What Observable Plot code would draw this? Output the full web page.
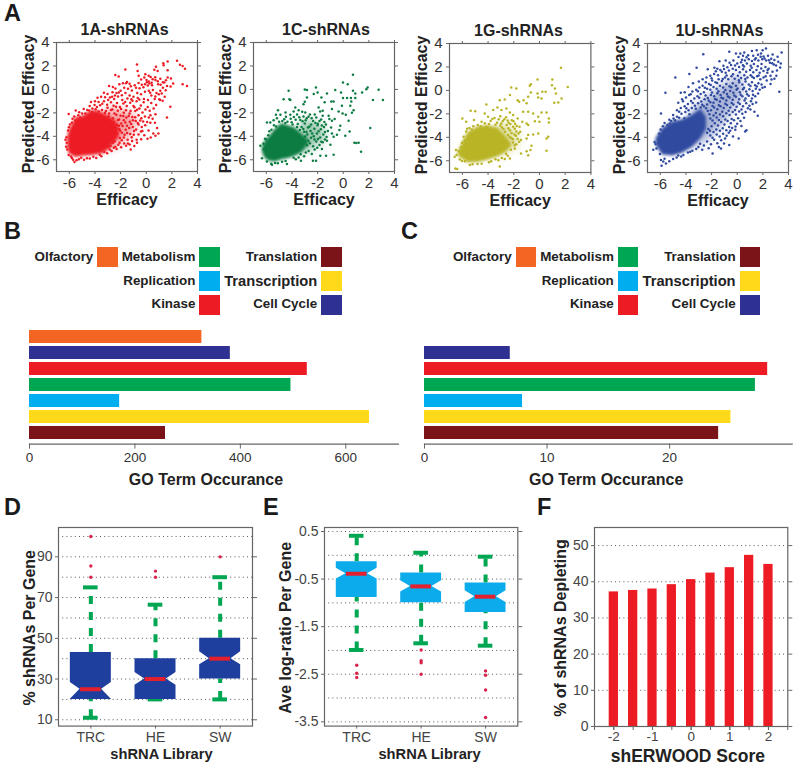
<!DOCTYPE html>
<html><head><meta charset="utf-8">
<script src="https://cdn.jsdelivr.net/npm/d3@7"></script>
<script src="https://cdn.jsdelivr.net/npm/@observablehq/plot@0.6"></script>
<style>
html,body{margin:0;padding:0;background:#fff}
#page{position:relative;width:800px;height:765px;overflow:hidden;font-family:"Liberation Sans",Arial,sans-serif}
.abs{position:absolute;white-space:nowrap}
</style></head><body><div id="page"></div>
<script>
// ---------- Panel A: values (x = efficacy, y = predicted efficacy)
const core1A=[[-6.13,-5.0,-4.1],[-6,-5.5,-3.5],[-5.48,-5.8,-2.4],[-4.96,-5.7,-2.3],[-4.44,-5.66,-1.9],[-3.92,-5.6,-1.8],[-3.4,-5.5,-2.0],[-2.88,-5.1,-2.3],[-2.36,-4.4,-2.7],[-2.1,-4.1,-3.3]];
const core1C=[[-6.3,-5.4,-4.9],[-6.08,-5.9,-4.4],[-5.82,-6.1,-4.1],[-5.3,-6.2,-3.4],[-4.78,-6.0,-2.9],[-4.26,-5.9,-3.1],[-3.74,-5.7,-3.3],[-3.22,-5.4,-3.8],[-2.7,-4.7,-4.3]];
const core1G=[[-6.34,-5.6,-5.3],[-5.95,-5.9,-4.4],[-5.56,-6.2,-3.6],[-4.78,-6.15,-3.1],[-4,-5.95,-3],[-3.22,-5.65,-3.2],[-2.57,-5.25,-4],[-2.18,-4.8,-4.5]];
const core1U=[[-6.34,-4.7,-4.1],[-5.82,-5.5,-3.24],[-5.04,-5.6,-2.68],[-4.26,-5.35,-2.5],[-3.48,-4.85,-2.1],[-2.83,-4.1,-1.6],[-2.4,-3.3,-2.3]];
const haze1A=[[-3.2,-5.3,-1.7],[-2.5,-5,-1.6],[-1.8,-4.5,-1.8],[-1.2,-4,-2],[-.8,-3.4,-2.4]];
const haze1C=[[-3.4,-5.7,-2.8],[-2.7,-5.3,-2.6],[-2,-4.8,-2.9],[-1.4,-4.4,-3.3]];
const haze1G=[[-3.3,-5.8,-2.8],[-2.6,-5.4,-2.8],[-2,-5,-3.2],[-1.6,-4.8,-3.8]];
const haze1U=[[-3.6,-5,-1.7],[-2.8,-4.6,-1],[-2,-4,-.4],[-1.2,-3,.4],[-.4,-1.8,.9],[.4,-.5,1.4]];
const points1A=[[2.4,2.44],[2.63,2.1],[2.84,2],[3.02,1.76],[2.84,.45],[3.18,.3],[1.67,2.38],[1.33,2.24],[1.36,2.05],[-.72,2.12],[-1.63,1.7],[-2.41,1.22],[-2.15,1.1],[-.67,1.58],[-.59,1.16],[.76,1.93],[.63,1.67],[1.67,1.64],[.89,1.58],[-.07,1.3],[.19,1.16],[-.15,1.02],[.5,.87],[1.54,.79],[1.93,.93],[1.67,1.02],[2.1,.5],[1.41,.59],[-1.58,.53],[-1.3,.48],[.9,.7],[1.1,.9],[1.3,.6],[.7,1.03],[.35,1.05],[-.4,.85],[-.1,.45],[.05,.62],[.25,.5],[.45,.35],[-.35,.4],[-.6,.55],[-.9,.35],
[-2.9,.3],[-2.6,.2],[-2.4,.08],[-2.1,.45],[-1.82,.52],[-1.5,.63],[-1.2,.28],[.02,.8],[.2,.67],[.42,.56],[.72,.8],[.93,.45],[1.12,.4],[1.3,.15],[1.62,.3],[1.9,.25],[.12,.33],[-.22,.18],[-.52,.1],[-.8,.15],[-1.12,-.1],[-1.42,.05],[-1.72,.14],[-2,-.12],[-2.32,-.3],[-2.63,-.24],[-3.02,-.4],[-3.3,-.28],[-3.52,-.62],[-3.8,-.72],[-4,-1],[-4.31,-1.08],[-2.83,-.7],[-2.5,-.82],[-2.2,-.6],[-1.9,-.5],[-1.62,-.3],[-1.3,-.53],[-1,-.62],[-.7,-.3],[-.41,-.42],[-.1,-.2],[.2,-.12],[.52,-.05],[.8,-.3],[1.1,-.12],[.4,-.52],[.71,-.6],[1.02,-.83],[1.88,-1.48],[1.62,-2.39],[1.28,-.97],[1.08,-.9],
[-3.3,-1.02],[-3.05,-1.3],[-2.75,-1.1],[-2.55,-1.4],[-2.28,-1.15],[-2.05,-1.5],[-1.78,-1.2],[-1.52,-1.42],[-1.25,-1.13],[-1,-1.42],[-.75,-1],[-.42,-1.38],[-.2,-1.1],[.12,-1.5],[-3.6,-1.35],[-3.85,-1.5],[-4.2,-1.62],[-4.6,-1.75],[-5,-2.05],[-5.5,-1.8],[-6.05,-2.1],[-5.75,-2.5],
[-2.75,-1.75],[-2.48,-2.05],[-2.22,-1.82],[-2,-2.25],[-1.75,-2],[-1.55,-2.4],[-1.3,-2.05],[-1.08,-2.35],[-.85,-1.85],[-.6,-2.2],[-.38,-2.45],[-.1,-2.3],[.2,-2.4],[.5,-2.5],[.33,-2.2],[.72,-2.12],[.68,-2.85],[.32,-2.85],[.85,-3.3],
[-2.2,-2.6],[-1.95,-2.9],[-1.75,-2.62],[-1.5,-3.1],[-1.28,-2.75],[-1.05,-3.2],[-.82,-2.7],[-.6,-3],[-.35,-3.2],[-.08,-3.05],[.18,-3.5],[-.3,-3.55],[.55,-3.75],[.72,-3.95],[.95,-3.75],[.35,-4.1],[-.15,-3.9],[-.6,-3.85],[-.95,-3.55],[-1.25,-3.8],[-1.6,-3.45],[-1.9,-3.7],[-2.12,-3.1],[-2.05,-4.15],[-1.75,-4.1],[-1.45,-4.3],[-1.1,-4.4],[-.75,-4.3],[-.4,-4.25],[.1,-4.2],[-.72,-4.55],[-1.3,-4.7],[-1.72,-4.62],[-2.08,-4.55],[-2.4,-4.9],[-2.7,-5.25],[-3.05,-5.45],[-3.5,-5.7],[-3.9,-5.85],[-4.4,-5.9],[-4.85,-6],[-5.25,-5.95],[-5.6,-6.2],[-5.8,-5.85],[-6.05,-5.6],[-6.25,-4.9],[-6.3,-4.3],[-6.2,-4.55],[-6.1,-3.5],[-5.95,-3],[-5.8,-2.85],[-5.62,-2.3],[-5.3,-2.2],[-5.15,-2.4],[-4.75,-2.05],[-4.45,-1.8],[-3.95,-1.7],[-3.45,-1.75],[-3.15,-1.85],[-2.9,-2.05],[-2.6,-2.45],[-2.35,-3.35],[-2.25,-3.75],[-2.6,-4.55],[-2.1,-3.4],
[-2.93,-2.31],[-2.71,-3.88],[-2.54,-2.83],[-2.47,-4.41],[-2.33,-2.17],[-2.27,-3.02],[-2.18,-4.72],[-2.12,-2.56],[-2.03,-3.53],[-1.97,-1.68],[-1.91,-4.33],[-1.84,-3.13],[-1.79,-2.27],[-1.69,-3.86],[-1.63,-2.83],[-1.58,-1.77],[-1.49,-3.71],[-1.43,-4.62],[-1.37,-2.26],[-1.33,-3.29],[-1.22,-1.84],[-1.18,-2.96],[-1.13,-4.07],[-1.04,-2.63],[-.97,-3.87],[-.92,-1.52],[-.86,-2.38],[-.79,-3.41],[-.71,-1.74],[-.66,-2.87],[-.53,-1.62],[-.47,-2.66],[-.41,-3.58],[-.29,-1.96],[-.24,-2.73],[-.18,-.81],[-.06,-1.72],[.07,-2.77],[.14,-.91],[.27,-1.83],[.39,-1.16],[.58,-1.63],[.66,-.82],[.77,-1.34],[.98,-.42],[1.21,-.35],[1.44,-.62],[1.52,-.08],[.31,-.28],[-.66,-.74],[-1.16,-.83],[-1.47,-.77],[-1.87,-.91],[-2.14,-.27],[-2.44,-.52],[-2.66,-.63],[-2.97,-.91],[-3.21,-.66],[-3.43,-1.23],[-3.72,-1.07],[-4.03,-1.33],[-4.41,-1.42],[-4.88,-1.66],[-5.23,-1.94],[-3.02,-1.57],[-2.64,-1.71],[-2.36,-1.47],[-1.64,-1.07],[-1.07,-.96],[-.54,-.87],[-3.27,-5.33],[-3.63,-5.58],[-4.13,-5.74],[-4.62,-5.88],[-5.07,-5.83],[-5.44,-6.05],[-5.71,-6],[-2.84,-5.12],[-2.53,-4.97],[-2.31,-5.08],[-1.96,-4.93],[-1.57,-4.81],[-1.21,-5.12],[-.93,-4.83],[-6.22,-4.08],[-6.16,-5.13],[-6.03,-3.23],[-5.87,-5.72],[-5.53,-2.66],[-4.23,-1.93],[-3.71,-1.88],[-3.22,-2.02],[-2.78,-4.83],[-2.97,-4.92]];
const points1C=[[.76,1.24],[-.02,.59],[.35,.45],[1.9,.16],[1.8,.02],[2.76,-.03],[3.1,-.91],[2.32,-.91],[2.11,-3.3],[1.39,-5.32],[.87,-4.55],[1.2,-4.55],[1.02,-4.58],[-4.26,-.12],[-4.65,-.83],[-4.2,-.83],[-4.13,-.9],[-3,0],[-2.83,-.06],[-2.13,.16],[-2,-.26],[-2.3,-.4],[-1.27,-.35],[-.62,-.06],[-.17,-.26],[.76,-.12],[.94,-.35],[1.47,-.26],[-1.7,-.69],[-.93,-1.03],[-.75,-1.03],[-.02,-.74],[.3,-.74],[.6,-.74],[.94,-.74],[.63,-1.03],[-1.45,-1.1],[-2.83,-.69],[-3,-1.06],[-3.1,-1.26],[-.1,-1.4],[.55,-1.4],[.81,-1.77],[.68,-2],[-.36,-1.88],[-.05,-2.05],[.2,-2.16],[-.88,-1.68],[-1.92,-1.54],[-1.8,-1.88],[-1.6,-1.82],[-3.74,-1.54],[-3.87,-1.88],[-3.48,-1.77],[-3.2,-1.9],[-2.96,-1.97],[-5.09,-1.77],[-5.25,-2.16],[-4.9,-2.16],[-4.5,-1.97],[-4.13,-2.16],[.42,-2.68],[-.23,-3.1],[-.3,-3.47],[.5,-3.58],[.16,-3.95],[-.88,-3.76],[-.49,-3.87],[-.75,-4.04],[-1.14,-2.25],[-.88,-2.68],[-.67,-2.53],[-1.08,-2.53],[-1.27,-4.38],[-1,-4.72],[-.75,-5.57],[-1.34,-5.66],[-1.79,-5.66],[-2.12,-6.08],[-2.36,-6.08],[-1.66,-5.09],[-3.48,-5.8],[-3.3,-6.08],[-4.39,-6.37],[-5.56,-6.43],[-6.47,-4.8],[-6.34,-5.86],[-5.95,-2.82],[-5.69,-2.82],[-5.17,-2.45],[-5.43,-2.62],
[-4.6,-2.55],[-4.35,-2.75],[-4.1,-2.5],[-3.85,-2.35],[-3.6,-2.15],[-3.35,-2.6],[-3.1,-2.3],[-2.85,-2.45],[-2.6,-2.15],[-2.35,-2.7],[-2.1,-2.4],[-1.85,-2.7],[-1.6,-2.25],[-1.35,-3],[-3.55,-2.95],[-3.25,-3.2],[-3,-2.9],[-2.75,-3.25],[-2.5,-3],[-2.25,-3.35],[-2,-3.05],[-1.75,-3.4],[-1.5,-3.2],[-1.2,-3.55],[-.95,-3.25],[-3.05,-3.6],[-2.8,-3.85],[-2.55,-3.55],[-2.3,-4],[-2.05,-3.75],[-1.8,-4.1],[-1.55,-3.85],[-1.3,-4.05],[-2.6,-4.6],[-2.35,-4.85],[-2.1,-4.45],[-1.85,-4.75],[-1.6,-4.5],[-2.7,-5.25],[-2.45,-5.5],[-3.05,-5.7],[-3.7,-5.95],[-4.5,-6.1],[-5.1,-6.3],[-5.95,-6.15],[-6.2,-5.1],[-6.1,-4.2],[-5.85,-3.9],[-5.6,-3.45],[-5.4,-3.05],[-5,-2.75],[-4.75,-2.7],[-3.95,-3],[-3.6,-3.2],
[-4.47,-2.33],[-4.02,-2.81],[-3.71,-2.58],[-3.43,-2.37],[-3.17,-2.71],[-2.93,-2.63],[-2.71,-2.33],[-2.46,-2.46],[-2.22,-2.13],[-1.98,-2.93],[-1.72,-2.57],[-1.47,-2.77],[-3.38,-3.47],[-3.12,-3.37],[-2.87,-3.63],[-2.63,-3.17],[-2.42,-3.77],[-2.17,-2.87],[-1.92,-3.57],[-1.67,-3.07],[-1.42,-3.63],[-2.97,-4.02],[-2.72,-4.37],[-2.51,-4.13],[-2.24,-4.27],[-1.97,-4.23],[-1.71,-4.47],[-1.43,-4.27],[-2.82,-4.77],[-2.23,-5.13],[-2.03,-4.97],[-2.92,-5.37],[-3.32,-5.53],[-3.87,-5.83],[-4.77,-6.17],[-5.32,-6.27],[-5.62,-6.33],[-6.23,-4.63],[-6.02,-4.27],[-5.77,-3.57],[-5.23,-3.17],[-4.52,-2.87]];
const points1G=[[1.67,1.93],[-.15,.93],[1,.93],[2.2,.3],[.97,.45],[-.67,.53],[-.75,.39],[1.2,.16],[1.28,-.26],[.48,-.12],[.22,-.12],[-.67,-.18],[-.15,-.26],[-1.8,.16],[-2.2,.25],[-2.3,-.4],[-.1,-.6],[1.72,-.69],[1.15,-1.06],[1.46,-1.03],[.16,-.69],[-1.7,-.83],[-1.58,-.97],[-1.24,-.83],[-1,-1.1],[-.88,-.55],[-3.09,-.83],[-2.7,-.77],[-4.13,-1.2],[-3.27,-1.45],[-3.6,-1.68],[-2.96,-1.68],[-2.57,-1.54],[-2.3,-1.88],[-2.05,-2.1],[-1.27,-1.82],[-.88,-1.82],[-.49,-1.97],[.16,-1.88],[.55,-1.88],[-.1,-2.25],[.73,-2.39],[.73,-2.73],[0,-2.68],[-.36,-2.62],[-1,-2.82],[-.88,-2.96],[-1.34,-2.68],[.68,-3.95],[.55,-4.1],[-.1,-3.67],[-.49,-3.76],[-.88,-3.81],[.55,-5.15],[-.62,-4.72],[-.7,-5.09],[-1,-5.18],[-.88,-5.52],[-1.44,-5.38],[-1.92,-4.95],[-2.3,-5.8],[-2.7,-5.86],[-3.09,-6.5],[-6.55,-6.65],[-6.4,-6.7],[-6.6,-5.66],[-6.5,-5.09],[-5,-1.77],[-5.35,-1.74],[-6,-2.4],[-5.7,-2.68],[-5.1,-2.53],[-4.5,-2.68],[-4.26,-1.97],[-4,-2.25],[-1.5,-3.53],[-1,-4.1],[-1.44,-4.24],
[-3.8,-2.6],[-3.5,-2.35],[-3.3,-2.75],[-3.05,-2.2],[-2.85,-2.6],[-2.6,-2.3],[-2.4,-2.75],[-2.15,-2.55],[-1.9,-2.85],[-1.7,-2.4],[-3.05,-3],[-2.8,-3.3],[-2.55,-2.95],[-2.3,-3.4],[-2.05,-3.1],[-1.8,-3.5],[-1.55,-3.1],[-2.45,-3.8],[-2.2,-4.05],[-1.95,-3.75],[-1.7,-4.15],[-2.05,-4.45],[-1.8,-4.6],[-2.6,-5.4],[-3.2,-5.95],[-3.75,-6.05],[-4.5,-6.25],[-5.2,-6.3],[-5.8,-6.05],[-6.2,-5.9],[-6.45,-5.5],[-6.1,-4.85],[-5.9,-3.95],[-5.7,-3.5],[-5.45,-3.2],[-5.15,-3.05],[-4.8,-2.95],[-4.25,-2.8],
[-3.93,-2.87],[-3.67,-2.43],[-3.42,-2.93],[-3.17,-2.47],[-2.97,-2.83],[-2.73,-2.47],[-2.47,-2.57],[-2.27,-2.87],[-2.02,-2.63],[-1.77,-3.03],[-2.93,-3.17],[-2.68,-3.53],[-2.42,-3.23],[-2.17,-3.63],[-1.92,-3.27],[-1.63,-3.67],[-2.32,-3.97],[-2.07,-4.17],[-1.83,-3.87],[-1.58,-4.37],[-1.93,-4.67],[-2.22,-5.07],[-2.47,-5.57],[-2.93,-5.77],[-3.43,-5.87],[-3.93,-6.13],[-4.82,-6.27],[-5.42,-6.37],[-6.03,-6.03],[-6.28,-5.17],[-6.03,-4.47],[-5.82,-4.27],[-5.63,-3.27],[-5.27,-3.33],[-4.57,-3.07],[-4.13,-3.13]];
const points1U=[[-2.65,3.09],[-.62,3.29],[-.1,3.15],[.24,3.15],[.55,3.23],[1.15,3.35],[1.52,3.43],[1.98,3.43],[2.24,3.57],[2.76,3.06],[3.46,3.23],[3.15,2.86],[3.4,2.3],[3.28,-.12],[-3.17,1.93],[-3.74,1.39],[-4.83,1.1],[-5.6,-.2],[-5.95,-1.97],[-2.3,1.81],[-1.78,1.93],[-1.39,2.49],[-1.08,2.1],[-1.55,1.85],
[1.6,-2.16],[1.34,-1.82],[.11,-4.1],[-.62,-4.66],[-1.27,-4.95],[-1.92,-5.38],[-5.56,-6.23],[-5.9,-6.43],[-5.95,-5.94],[-5.3,-6.05],[-5,-5.85],[-.66,-3.6],[-.55,-3.45],[.72,-3.4],[.62,-3.5],
[.1,2.85],[.45,2.95],[.85,3],[1.25,2.95],[1.62,3.05],[1.85,3.15],[2.05,2.9],[2.4,2.95],[2.65,2.7],[2.9,2.6],[3.2,2.45],[3.35,1.95],[3.1,1.7],[2.85,2.2],[2.55,2.35],[2.25,2.55],[1.95,2.65],[1.65,2.55],[1.45,2.75],[1.15,2.5],[.9,2.65],[.6,2.55],[.3,2.4],[0,2.3],[-.3,2.55],[-.6,2.35],[-.9,2.55],
[.15,2],[.45,2.15],[.75,2.3],[1.05,2.1],[1.3,2.25],[1.6,2.05],[1.9,2.25],[2.2,2],[2.45,1.85],[2.75,1.6],[3.05,1.25],[2.9,1],[2.6,1.25],[2.35,1.5],[2.05,1.65],[1.75,1.5],[1.5,1.75],[1.25,1.55],[1,1.75],[.7,1.6],[.45,1.8],[.2,1.55],[-.1,1.75],[-.35,1.85],[-.65,1.7],[-.9,1.5],[-1.2,1.6],[-1.5,1.3],[-1.8,1.4],[-2.1,1.25],[-2.4,1.1],[-2.7,.95],[-3,.75],[-3.45,.6],[-3.8,.3],[-4.1,-.15],[-4.4,-.2],
[2.6,.55],[2.3,.85],[2.05,1.1],[1.8,.95],[1.55,1.2],[1.3,1.05],[1.05,1.3],[.8,1.1],[.55,1.3],[.3,1.05],[.05,1.25],[-.2,1],[-.45,1.2],[-.7,.95],[-.95,1.1],[-1.2,.8],[-1.45,.95],[-1.7,.7],[-1.95,.85],[-2.2,.55],[-2.45,.7],[-2.7,.4],[-2.95,.25],[-3.2,.05],[-3.5,-.1],[-3.75,-.4],[-4,-.6],[-4.3,-.75],[-4.6,-1.05],
[2.15,.3],[1.9,.5],[1.65,.6],[1.4,.45],[1.15,.7],[.9,.5],[.65,.75],[.4,.5],[.15,.7],[-.1,.4],[-.35,.6],[-.6,.35],[-.85,.55],[-1.1,.25],[-1.35,.4],[-1.6,.15],[-1.85,.3],[-2.1,.05],[-2.35,.15],[-2.6,-.15],[-2.85,-.3],[-3.1,-.5],[-3.35,-.7],[-3.6,-.9],[-3.85,-1.15],[-4.1,-1.35],[-4.4,-1.5],[-4.7,-1.7],[-5,-2.1],[-5.3,-2.5],
[1.75,.05],[1.45,.15],[1.2,-.05],[.95,.1],[.7,-.1],[.45,.1],[.2,-.15],[-.05,.05],[-.3,-.2],[-.55,-.05],[-.8,-.3],[-1.05,-.15],[-1.3,-.4],[-1.55,-.25],[-1.8,-.5],[-2.05,-.4],[-2.3,-.65],[-2.55,-.75],[-2.8,-.95],[-3.05,-1.1],[-3.3,-1.3],[-3.55,-1.5],[-3.8,-1.7],[-4.05,-1.85],[-4.35,-2],[-4.7,-2.25],
[1.4,-.5],[1.15,-.7],[.9,-.45],[.65,-.7],[.4,-.5],[.15,-.75],[-.1,-.55],[-.35,-.8],[-.6,-.6],[-.85,-.85],[-1.1,-.7],[-1.35,-.95],[-1.6,-.8],[-1.85,-1.05],[-2.1,-1],[-2.35,-1.2],[-2.6,-1.35],[-2.85,-1.45],
[1.2,-1.15],[.95,-1.3],[.7,-1.1],[.45,-1.35],[.2,-1.15],[-.05,-1.4],[-.3,-1.2],[-.55,-1.45],[-.8,-1.25],[-1.05,-1.5],[-1.3,-1.35],[-1.55,-1.6],[-1.8,-1.45],[-2.05,-1.7],[-2.3,-1.75],
[.65,-1.85],[.4,-2],[.15,-1.8],[-.1,-2.05],[-.35,-1.85],[-.6,-2.1],[-.85,-1.95],[-1.1,-2.2],[-1.35,-2.05],[-1.6,-2.3],[-1.85,-2.15],[-2.1,-2.4],
[.25,-2.6],[0,-2.85],[-.25,-2.55],[-.5,-2.8],[-.75,-2.6],[-1,-2.9],[-1.25,-2.7],[-1.5,-3],[-1.75,-2.8],[-2,-3.05],[-2.25,-3.3],
[-.15,-3.35],[-.4,-3.2],[-.85,-3.4],[-1.1,-3.7],[-1.35,-3.45],[-1.6,-3.75],[-1.85,-3.55],[-2.1,-3.85],[-2.35,-3.6],[-.95,-4.1],[-1.25,-4.25],[-1.55,-4.5],[-1.8,-4.2],[-2.05,-4.6],[-2.35,-4.35],[-2.6,-4.7],[-2.9,-4.55],[-3.2,-5],[-3.5,-5.15],[-3.85,-5.3],[-4.2,-5.5],[-4.6,-5.55],[-6.45,-4.4],[-6.55,-5.05],[-6.3,-4.95],[-6.1,-3.7],[-5.8,-3.05],[-5.45,-2.95],[-5.15,-2.6],[-4.85,-2.55],
[.37,2.61],[.73,2.83],[1.37,2.63],[1.83,2.87],[2.13,2.73],[2.47,2.57],[2.73,2.31],[3.03,2.13],[2.37,1.73],[1.87,1.87],[1.13,1.93],[.53,2.03],[-.17,2.13],[-.48,2.17],[-.77,1.97],[-1.03,1.83],[-1.32,1.73],[-1.67,1.63],[-2,1.03],[2.67,.93],[2.22,1.21],[1.67,1.27],[1.17,1.17],[.63,.97],[.13,.87],[-.33,1.37],[-.83,1.27],[-1.13,.97],[-1.57,.63],[-2.07,.47],[-2.53,.23],[-3.07,-.07],[-3.63,-.33],[-4.23,-.93],[1.97,.23],[1.53,.33],[1.03,.37],[.53,.23],[.03,.17],[-.47,.27],[-.93,.03],[-1.47,-.07],[-1.97,-.17],[-2.47,-.43],[-2.97,-.63],[-3.47,-1.07],[-3.97,-1.53],[-4.53,-1.83],[1.63,-.27],[1.23,-.37],[.77,-.33],[.27,-.37],[-.23,-.43],[-.73,-.53],[-1.23,-.63],[-1.73,-.73],[-2.23,-.87],[-2.73,-1.23],[-3.23,-1.57],[-3.73,-2.03],[1.47,-1.03],[1.07,-.93],[.57,-.87],[.07,-1.03],[-.43,-1.07],[-.93,-1.13],[-1.43,-1.27],[-1.93,-1.33],[-2.43,-1.53],[1.03,-1.63],[.83,-1.53],[.33,-1.63],[-.17,-1.67],[-.67,-1.73],[-1.17,-1.83],[-1.67,-1.93],[-2.17,-2.03],[.53,-2.33],[.07,-2.37],[-.43,-2.43],[-.93,-2.47],[-1.43,-2.53],[-1.93,-2.57],[.33,-3.03],[-.13,-3.07],[-.63,-3.13],[-1.13,-3.23],[-1.63,-3.33],[-2.13,-3.43],[-.33,-3.93],[-.83,-3.87],[-1.37,-3.93],[-1.93,-4.03],[-1.03,-4.53],[-1.43,-4.83],[-2.23,-4.93],[-2.73,-5.07],[-3.03,-4.83],[-3.67,-5.23],[-4.37,-5.63],[-4.73,-5.73],[-5.67,-5.83],[-5.77,-6.07],[-6.03,-5.43],[-6.37,-4.57],[-5.97,-3.33],[-5.67,-2.77],[-5.27,-2.83],[-4.97,-2.4],[-4.53,-2.33],[-4.13,-2.37]];

// ---------- Panels B and C
const goNames=["Olfactory","Cell Cycle","Kinase","Metabolism","Replication","Transcription","Translation"];
const goCountsB=[327,381,527,496,171,645,258];
const goCountsC=[0,7,28,27,8,25,24];
const goColors=["#f26522","#2e3192","#ed1c24","#00a651","#00aeef","#ffd91a","#7b1418"];
const goTicksB=[0,200,400,600];
const goTicksC=[0,10,20];

// ---------- Panels D and E: library box summaries
const libraries=["TRC","HE","SW"];
const libCenters=[.5,1.5,2.5];
const geneQ1=[20,20,30], geneNotchLo=[20.1,26.9,37], geneMed=[25,30,40], geneNotchHi=[28.3,33.2,43.4], geneQ3=[43,40,50], geneWhiskLo=[11,20,20], geneWhiskHi=[75,66.5,80];
const geneOutliers=[[.5,100],[.5,85.5],[.5,80],[1.5,83],[1.5,80],[2.5,90]];
const geneTicks=[10,30,50,70,90];
const geneGrid=[10,20,30,40,50,60,70,80,90,100];
const ratioQ1=[-.885,-.997,-1.2], ratioNotchLo=[-.5,-.773,-.99], ratioMed=[-.388,-.654,-.87], ratioNotchHi=[-.27,-.535,-.745], ratioQ3=[-.136,-.374,-.584], ratioWhiskLo=[-1.99,-1.85,-1.9], ratioWhiskHi=[.41,.053,-.03];
const ratioOutliers=[[.5,-2.31],[.5,-2.48],[.5,-2.57],[1.5,-1.99],[1.5,-2.216],[1.5,-2.26],[1.5,-2.5],[2.5,-2.43],[2.5,-2.52],[2.5,-2.83],[2.5,-3.41]];
const ratioTicks=[.5,-.5,-1.5,-2.5,-3.5];
const ratioGrid=[.5,0,-.5,-1,-1.5,-2,-2.5,-3,-3.5];

// ---------- Panel F
const scores=[-2,-1.5,-1,-.5,0,.5,1,1.5,2];
const depleting=[37.2,37.6,38,39.2,40.6,42.4,43.9,47.3,44.8];
const scoreTicks=[-2.5,-2,-1.5,-1,-.5,0,.5,1,1.5,2,2.5];
const scoreLabels=[-2,-1,0,1,2];
const depleteTicks=[0,10,20,30,40,50];

// ---------- Helpers
const FONT='"Liberation Sans",Arial,sans-serif', AX="#666", TXT="#333", INK="#222";
const page=document.getElementById("page");
function place(b,options){
  const m={l:60,r:11,t:30,b:46,...b.m};
  const svg=Plot.plot({width:b.R-b.L+m.l+m.r,height:b.B-b.T+m.t+m.b,marginLeft:m.l,marginRight:m.r,marginTop:m.t,marginBottom:m.b,
    style:{background:"transparent",fontFamily:FONT,overflow:"visible"},...options});
  svg.style.position="absolute";svg.style.left=(b.L-m.l)+"px";svg.style.top=(b.T-m.t)+"px";svg.style.maxWidth="none";
  page.appendChild(svg);
}
function textDiv(s,x,y,size,anchor,color){
  const d=document.createElement("div");d.className="abs";d.textContent=s;
  d.style.cssText+=`left:${x}px;top:${y}px;font-size:${size}px;font-weight:bold;color:${color||INK};line-height:1;transform:translate(${anchor==="end"?"-100%":"0"},-50%)`;
  page.appendChild(d);
}
const fmt=d=>String(d);
const label=(s,anchor,dx,dy,size,rotate=0)=>Plot.text([s],{frameAnchor:anchor,dx,dy,rotate,text:d=>d,fontSize:size,fontWeight:"bold",fill:INK,textAnchor:"middle",lineAnchor:"middle"});
const xLabel=(s,dy,size,dx=0)=>label(s,"bottom",dx,dy,size);
const yLabel=(s,dx,dy,size)=>label(s,"left",dx,dy,size,-90);
const topLabel=(s,dy,size,dx)=>label(s,"top",dx,dy,size);

// ---------- Panel A
const panelA=[
 {name:"1A-shRNAs",pts:points1A,core:core1A,haze:haze1A,color:"#ed1c24",L:55.7,R:196.7,T:41.7,B:170.7,tdx:-2.4},
 {name:"1C-shRNAs",pts:points1C,core:core1C,haze:haze1C,color:"#0c7c42",L:253.3,R:394.3,T:41.7,B:170.7,tdx:2},
 {name:"1G-shRNAs",pts:points1G,core:core1G,haze:haze1G,color:"#b8b425",L:449.3,R:590.7,T:42.7,B:171.7,tdx:-1.7},
 {name:"1U-shRNAs",pts:points1U,core:core1U,haze:haze1U,color:"#2f4a9f",L:647.3,R:788.3,T:42.7,B:171.7,tdx:1.4}];
const axisValues=[-6,-4,-2,0,2,4];
for(const p of panelA){
  place(p,{x:{domain:[-7,4],axis:null},y:{domain:[-7,4],axis:null},marks:[
    Plot.areaY(p.haze,{x:d=>d[0],y1:d=>d[1],y2:d=>d[2],fill:p.color,fillOpacity:.42,imageFilter:"blur(4px)"}),
    Plot.areaY(p.core,{x:d=>d[0],y1:d=>d[1],y2:d=>d[2],fill:p.color,imageFilter:"blur(1.5px)"}),
    Plot.dot(p.pts,{x:d=>d[0],y:d=>d[1],r:1.25,fill:p.color,stroke:"none"}),
    Plot.frame({stroke:AX,strokeWidth:1.2}),
    Plot.axisX({ticks:axisValues,anchor:"bottom",tickSize:3,tickPadding:3,fontSize:15,tickFormat:fmt,stroke:AX,fill:TXT,label:null}),
    Plot.axisX({ticks:axisValues,anchor:"top",tickSize:3,text:null,stroke:AX,label:null}),
    Plot.axisY({ticks:axisValues,anchor:"left",tickSize:3,tickPadding:4,fontSize:15,tickFormat:fmt,stroke:AX,fill:TXT,label:null}),
    Plot.axisY({ticks:axisValues,anchor:"right",tickSize:3,text:null,stroke:AX,label:null}),
    xLabel("Efficacy",28.6,16),
    yLabel("Predicted Efficacy",-27.4,-3,16),
    topLabel(p.name,-13,16,p.tdx)
  ]});
}

// ---------- Panels B, C
const legendRows={Olfactory:[0,0],Metabolism:[1,0],Replication:[1,1],Kinase:[1,2],Translation:[2,0],Transcription:[2,1],"Cell Cycle":[2,2]};
const legendSwatchX=[97.3,199.4,321.2], legendRowY=[247,271,294.5];
function legend(offset){
  for(const n of goNames){
    const [c,r]=legendRows[n], col=goColors[goNames.indexOf(n)];
    const s=document.createElement("div");s.className="abs";
    s.style.cssText+=`left:${legendSwatchX[c]+offset}px;top:${legendRowY[r]}px;width:20.4px;height:20.2px;background:${col}`;
    page.appendChild(s);
    textDiv(n,legendSwatchX[c]+offset-4,legendRowY[r]+9.6,n==="Transcription"?14.7:13.4,"end");
  }
}
legend(0);legend(418.4);
function barsPanel(counts,ticks,dom,box){
  const rows=goNames.map((n,i)=>({n,v:counts[i],c:goColors[i]})).filter(d=>d.v>0);
  place({...box,m:{l:28,r:2,t:5,b:46}},{x:{domain:dom,axis:null},
    y:{domain:goNames,axis:null,range:[5,5+113.2],paddingInner:.2,paddingOuter:.1},
    marks:[
      Plot.barX(rows,{x:"v",y:"n",fill:"c"}),
      Plot.frame({anchor:"bottom",stroke:AX,strokeWidth:1.2}),
      Plot.axisX({ticks,anchor:"bottom",tickSize:5,tickPadding:3,fontSize:13.5,tickFormat:fmt,stroke:AX,fill:TXT,label:null}),
      xLabel("GO Term Occurance",box.xl,16,box.xd)
    ]});
}
barsPanel(goCountsB,goTicksB,[0,700],{L:29.3,R:398.3,T:328.4,B:444,xl:35.3,xd:-8});
barsPanel(goCountsC,goTicksC,[0,30],{L:424,R:791.7,T:328.4,B:444,xl:35.3,xd:-2.2});

// ---------- Panels D, E
function boxPanel(cfg){
  const rows=libCenters.flatMap((c,i)=>{const h=.317,n=.167;return [
    {k:i,y:cfg.q1[i],x1:c-h,x2:c+h},{k:i,y:cfg.nl[i],x1:c-h,x2:c+h},{k:i,y:cfg.med[i],x1:c-n,x2:c+n},{k:i,y:cfg.nh[i],x1:c-h,x2:c+h},{k:i,y:cfg.q3[i],x1:c-h,x2:c+h}];});
  const stats=libCenters.map((c,i)=>({c,q1:cfg.q1[i],q3:cfg.q3[i],med:cfg.med[i],lo:cfg.lo[i],hi:cfg.hi[i]}));
  place({...cfg.box,m:{l:60,r:8,t:5,b:42}},{x:{domain:[0,3],axis:null},y:{domain:cfg.dom,axis:null},marks:[
    Plot.ruleY(cfg.grid,{stroke:"#444",strokeDasharray:"1 3.2",strokeWidth:.9}),
    Plot.ruleX(stats,{x:"c",y1:"q3",y2:"hi",stroke:"#00a651",strokeWidth:4,strokeDasharray:"8 8"}),
    Plot.ruleX(stats,{x:"c",y1:"lo",y2:"q1",stroke:"#00a651",strokeWidth:4,strokeDasharray:"8 8"}),
    Plot.ruleY(stats,{y:"hi",x1:d=>d.c-.113,x2:d=>d.c+.113,stroke:"#00a651",strokeWidth:4}),
    Plot.ruleY(stats,{y:"lo",x1:d=>d.c-.113,x2:d=>d.c+.113,stroke:"#00a651",strokeWidth:4}),
    Plot.areaX(rows,{y:"y",x1:"x1",x2:"x2",z:"k",fill:cfg.fill}),
    Plot.ruleY(stats,{y:"med",x1:d=>d.c-.16,x2:d=>d.c+.16,stroke:"#e4202e",strokeWidth:4}),
    Plot.dot(cfg.out,{x:d=>d[0],y:d=>d[1],r:1.7,fill:"#d9234a",stroke:"none"}),
    Plot.frame({stroke:AX,strokeWidth:1.2}),
    Plot.axisX({ticks:libCenters,anchor:"bottom",tickSize:3,tickPadding:3,fontSize:14,tickFormat:d=>libraries[libCenters.indexOf(d)],stroke:AX,fill:"#444",label:null}),
    Plot.axisY({ticks:cfg.ticks,anchor:"left",tickSize:3,tickPadding:3,fontSize:14,tickFormat:fmt,stroke:AX,fill:"#444",label:null}),
    Plot.axisY({ticks:cfg.ticks,anchor:"right",tickSize:4,text:null,stroke:AX,label:null}),
    xLabel("shRNA Library",28.5,14.7,cfg.xd),
    yLabel(cfg.ylab,cfg.ydx,1,16)
  ]});
}
boxPanel({box:{L:58.3,R:252.3,T:526.7,B:725.3},dom:[6.9,104.4],grid:geneGrid,ticks:geneTicks,q1:geneQ1,nl:geneNotchLo,med:geneMed,nh:geneNotchHi,q3:geneQ3,lo:geneWhiskLo,hi:geneWhiskHi,out:geneOutliers,fill:"#1f3f9e",ylab:"% shRNAs Per Gene",ydx:-29,xd:6});
boxPanel({box:{L:324,R:517.3,T:526.7,B:725.3},dom:[-3.59,.584],grid:ratioGrid,ticks:ratioTicks,q1:ratioQ1,nl:ratioNotchLo,med:ratioMed,nh:ratioNotchHi,q3:ratioQ3,lo:ratioWhiskLo,hi:ratioWhiskHi,out:ratioOutliers,fill:"#0cabec",ylab:"Ave log-ratio Per Gene",ydx:-39,xd:8.4});

// ---------- Panel F
place({L:594,R:787.3,T:526.7,B:725.7,m:{l:40,r:8,t:5,b:42}},{x:{domain:[-2.5,2.5],axis:null},y:{domain:[0,55],axis:null},marks:[
  Plot.ruleY(depleteTicks.slice(1),{stroke:"#444",strokeDasharray:"1 3.2",strokeWidth:.9}),
  Plot.rectY(scores.map((s,i)=>({s,v:depleting[i]})),{x1:d=>d.s-.12,x2:d=>d.s+.12,y1:0,y2:"v",fill:"#ed1c24"}),
  Plot.frame({stroke:AX,strokeWidth:1.2}),
  Plot.axisX({ticks:scoreTicks,anchor:"bottom",tickSize:4,text:null,stroke:AX,label:null}),
  Plot.axisX({ticks:scoreLabels,anchor:"bottom",tickSize:4,tickPadding:1,fontSize:13.5,tickFormat:fmt,stroke:AX,fill:"#444",label:null}),
  Plot.axisY({ticks:depleteTicks,anchor:"left",tickSize:3,tickPadding:3,fontSize:14,tickFormat:fmt,stroke:AX,fill:"#444",label:null}),
  Plot.axisY({ticks:depleteTicks,anchor:"right",tickSize:4,text:null,stroke:AX,label:null}),
  xLabel("shERWOOD Score",29.5,17.5,-3.3),
  yLabel("% of shRNAs Depleting",-33.3,1,16)
]});

// ---------- Panel letters
[["A",4,14],["B",4,231.5],["C",401,231.5],["D",4,507.5],["E",263,507.5],["F",537,507.5]].forEach(([s,x,y])=>textDiv(s,x,y,23.5,"start","#1a1a1a"));
</script></body></html>
